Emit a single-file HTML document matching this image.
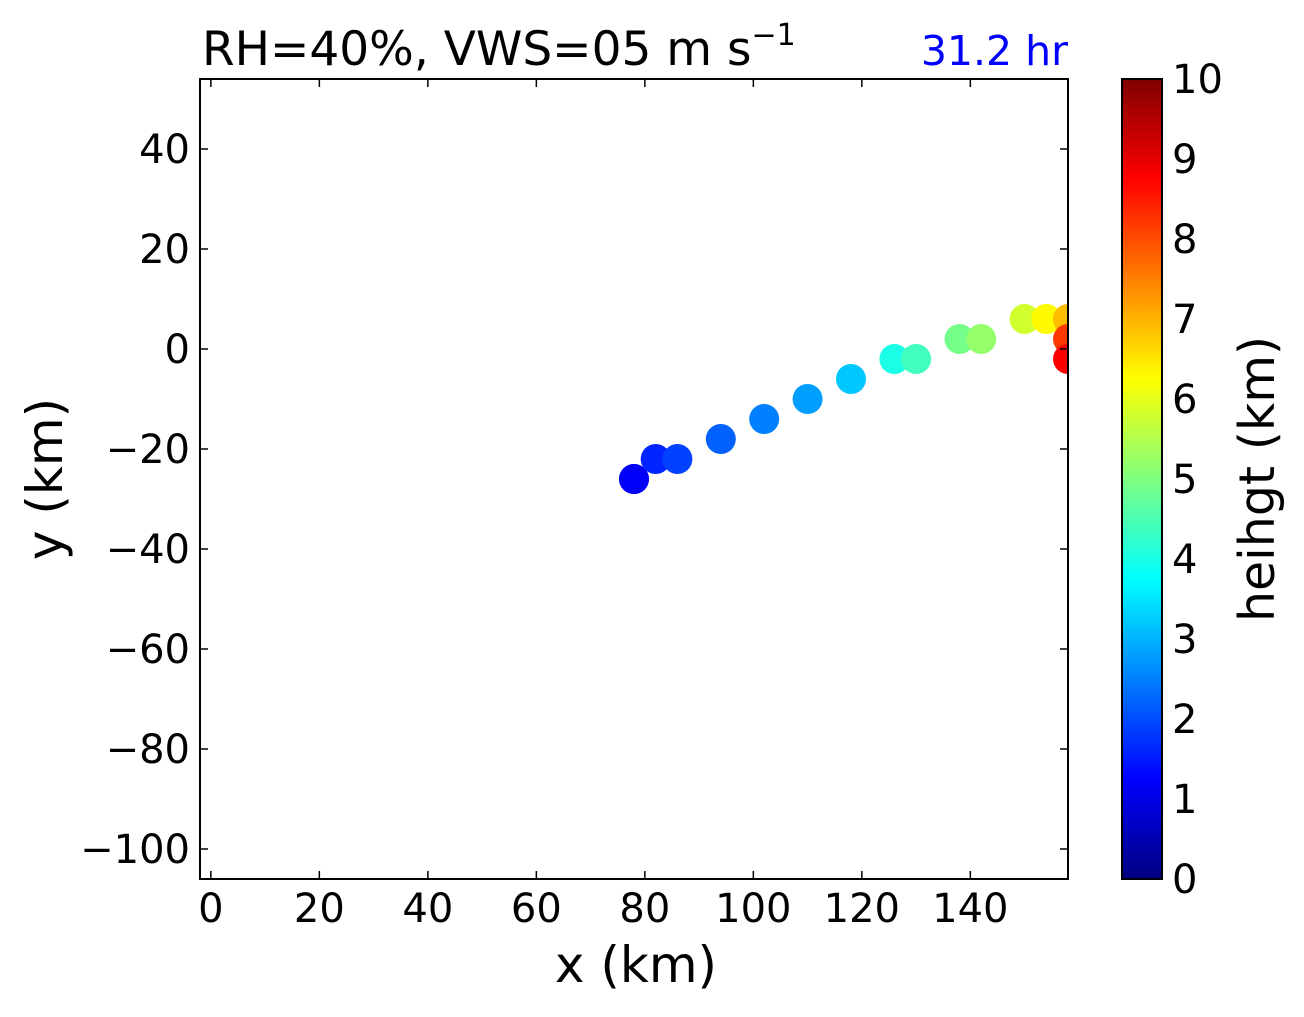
<!DOCTYPE html>
<html><head><meta charset="utf-8"><style>
body{margin:0;background:#fff}
svg text{font-family:"DejaVu Sans","Liberation Sans",sans-serif}
</style></head><body>
<svg id="c" width="1304" height="1012" xmlns="http://www.w3.org/2000/svg">
<defs>
<clipPath id="pc"><rect x="200" y="79" width="868" height="800"/></clipPath>
<linearGradient id="jet" x1="0" y1="1" x2="0" y2="0"></linearGradient>
</defs>
<g id="marks" clip-path="url(#pc)"></g>
<rect x="200" y="79" width="868" height="800" fill="none" stroke="#000" stroke-width="2"/>
<g id="axes"></g>
<text x="202" y="65" font-size="47">RH=40%, VWS=05 m s<tspan dy="-20" font-size="30">−1</tspan></text>
<text x="1068" y="65" font-size="41" fill="#0000ff" text-anchor="end">31.2 hr</text>
<text x="636" y="982" font-size="50" text-anchor="middle">x (km)</text>
<text transform="translate(62,479) rotate(-90)" font-size="50" text-anchor="middle">y (km)</text>
<rect x="1122" y="79" width="40" height="800" fill="url(#jet)" stroke="#000" stroke-width="2"/>
<text transform="translate(1274,479) rotate(-90)" font-size="49" text-anchor="middle">heihgt (km)</text>
</svg>
<script>
const xs=[78,78,82,86,94,102,110,118,126,130,138,142,150,154,158,158,158];
const ys=[-26,-26,-22,-22,-18,-14,-10,-6,-2,-2,2,2,6,6,6,2,-2];
const hs=[1.2,1.2,1.6,1.9,2.2,2.5,2.8,3.2,4.0,4.4,4.9,5.2,5.8,6.3,6.9,8.2,8.8];
const xTicks=[0,20,40,60,80,100,120,140];
const yTicks=[40,20,0,-20,-40,-60,-80,-100];
const cTicks=[0,1,2,3,4,5,6,7,8,9,10];
const X=v=>200+(v+2)*868/160, Y=v=>349-v*5, C=v=>879-v*80;
function jet(v){const t=v/10;const f=(a)=>Math.max(0,Math.min(1,1.5-Math.abs(4*t-a)));
return `rgb(${Math.round(255*f(3))},${Math.round(255*f(2))},${Math.round(255*f(1))})`;}
const NS="http://www.w3.org/2000/svg",m=document.getElementById('marks'),ax=document.getElementById('axes');
function el(t,a,p){const e=document.createElementNS(NS,t);for(const k in a)e.setAttribute(k,a[k]);p.appendChild(e);return e;}
const g=document.getElementById('jet');
for(let i=0;i<=100;i++){el('stop',{offset:i/100,'stop-color':jet(i/10)},g);}
xs.forEach((x,i)=>{const c=el('circle',{cx:X(x),cy:Y(ys[i]),r:15,fill:jet(hs[i])},m);

});
xTicks.forEach(v=>{const x=X(v);el('line',{x1:x,x2:x,y1:879,y2:871,stroke:'#000','stroke-width':1.5},ax);el('line',{x1:x,x2:x,y1:79,y2:87,stroke:'#000','stroke-width':1.5},ax);
const t=el('text',{x:x,y:922,'font-size':40,'text-anchor':'middle'},ax);t.textContent=v;

});
yTicks.forEach(v=>{const y=Y(v);el('line',{x1:200,x2:208,y1:y,y2:y,stroke:'#000','stroke-width':1.5},ax);el('line',{x1:1060,x2:1068,y1:y,y2:y,stroke:'#000','stroke-width':1.5},ax);
const t=el('text',{x:190,y:y+14,'font-size':40,'text-anchor':'end'},ax);t.textContent=v<0?'−'+(-v):v;

});
cTicks.forEach(v=>{const y=C(v);el('line',{x1:1154,x2:1162,y1:y,y2:y,stroke:'#000','stroke-width':1.5},ax);
const t=el('text',{x:1172,y:y+14,'font-size':40},ax);t.textContent=v;

});
</script>
</body></html>
